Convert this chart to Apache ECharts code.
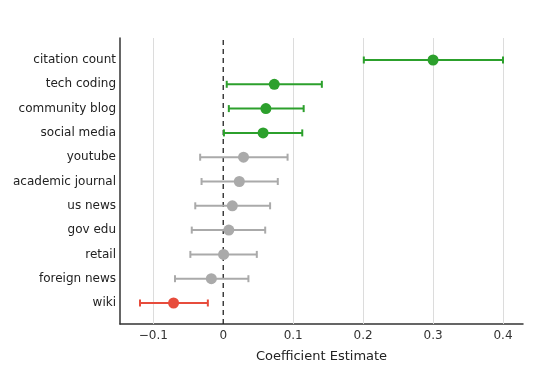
<!DOCTYPE html>
<html><head><meta charset="utf-8">
<script src="https://cdn.jsdelivr.net/npm/echarts@6/dist/echarts.min.js"></script>
<style>html,body{margin:0;padding:0;background:#fff}#c{width:544px;height:370px}</style>
</head><body><div id="c"></div>
<script>
const categories = ['citation count','tech coding','community blog','social media','youtube','academic journal','us news','gov edu','retail','foreign news','wiki'];
const estimates = [0.300, 0.073, 0.061, 0.057, 0.029, 0.023, 0.013, 0.008, 0.0005, -0.017, -0.071];
const lowerCI = [0.201, 0.005, 0.008, 0.001, -0.033, -0.031, -0.040, -0.045, -0.047, -0.069, -0.119];
const upperCI = [0.400, 0.141, 0.115, 0.113, 0.092, 0.078, 0.067, 0.060, 0.048, 0.036, -0.022];
const groups = ['pos','pos','pos','pos','ns','ns','ns','ns','ns','ns','neg'];
const colorMap = {pos:'#2ca02c', ns:'#aaaaaa', neg:'#e74c3c'};
const xTicks = [-0.1, 0, 0.1, 0.2, 0.3, 0.4];

const chart = echarts.init(document.getElementById('c'));
const font = 'DejaVu Sans, Verdana, sans-serif';
const xMin = -0.1476, xMax = 0.4286;
const errData = categories.map((c,i)=>[i, lowerCI[i], upperCI[i], groups[i]]);
const ptData = categories.map((c,i)=>({value:[estimates[i], c], itemStyle:{color:colorMap[groups[i]], opacity:1}}));
const gridVals = xTicks.filter(v=>Math.abs(v)>1e-9);
chart.setOption({
  animation:false,
  grid:[
    {left:120, top:38, width:403, height:286, containLabel:false},
    {left:120, top:47.85, width:403, height:267.3, containLabel:false}
  ],
  xAxis:[
    {gridIndex:0, type:'value', min:xMin, max:xMax,
     axisLine:{show:true, onZero:false, lineStyle:{color:'#333', width:1.5}},
     axisTick:{show:false},
     splitLine:{show:false},
     axisLabel:{show:true, color:'#333', fontFamily:font, fontSize:12, margin:6,
       customValues:xTicks, formatter:v=>{ if(Math.abs(v)<1e-9) return '0'; return (v<0?'\u22120.':'0.')+Math.round(Math.abs(v)*10); }},
     name:'Coefficient Estimate', nameLocation:'middle', nameGap:26,
     nameTextStyle:{color:'#222', fontFamily:font, fontSize:13}
    },
    {gridIndex:1, type:'value', min:xMin, max:xMax, show:false, splitLine:{show:false}}
  ],
  yAxis:[
    {gridIndex:0, type:'value', min:0, max:1, axisLine:{show:true, onZero:false, lineStyle:{color:'#333', width:1.5}},
     axisTick:{show:false}, axisLabel:{show:false}, splitLine:{show:false}},
    {gridIndex:1, type:'category', data:categories, inverse:true,
     axisLine:{show:false, onZero:false}, axisTick:{show:false}, splitLine:{show:false},
     axisLabel:{color:'#222', fontFamily:font, fontSize:12, margin:4}}
  ],
  series:[
    {type:'line', xAxisIndex:0, yAxisIndex:0, data:[], symbol:'none', silent:true, z:0,
     markLine:{silent:true, symbol:'none', label:{show:false},
       lineStyle:{color:'#dcdcdc', width:1, type:'solid'},
       data:gridVals.map(v=>({xAxis:v}))}},
    {type:'line', xAxisIndex:0, yAxisIndex:0, data:[[0,0],[0,1]], symbol:'none', silent:true,
     lineStyle:{color:'#222', width:1.3, type:[5,4]}, z:1},
    {type:'custom', xAxisIndex:1, yAxisIndex:1, data:errData, z:5,
     renderItem:(params, api)=>{
       const i = api.value(0);
       const lo = api.coord([api.value(1), i]);
       const hi = api.coord([api.value(2), i]);
       const col = colorMap[groups[i]];
       const h = 3.5;
       const st = {stroke:col, lineWidth:2};
       return {type:'group', children:[
         {type:'line', shape:{x1:lo[0], y1:lo[1], x2:hi[0], y2:hi[1]}, style:st},
         {type:'line', shape:{x1:lo[0], y1:lo[1]-h, x2:lo[0], y2:lo[1]+h}, style:st},
         {type:'line', shape:{x1:hi[0], y1:hi[1]-h, x2:hi[0], y2:hi[1]+h}, style:st}
       ]};
     },
     encode:{x:[1,2], y:0}
    },
    {type:'scatter', xAxisIndex:1, yAxisIndex:1, data:ptData, symbolSize:11, z:6}
  ]
});
</script></body></html>
